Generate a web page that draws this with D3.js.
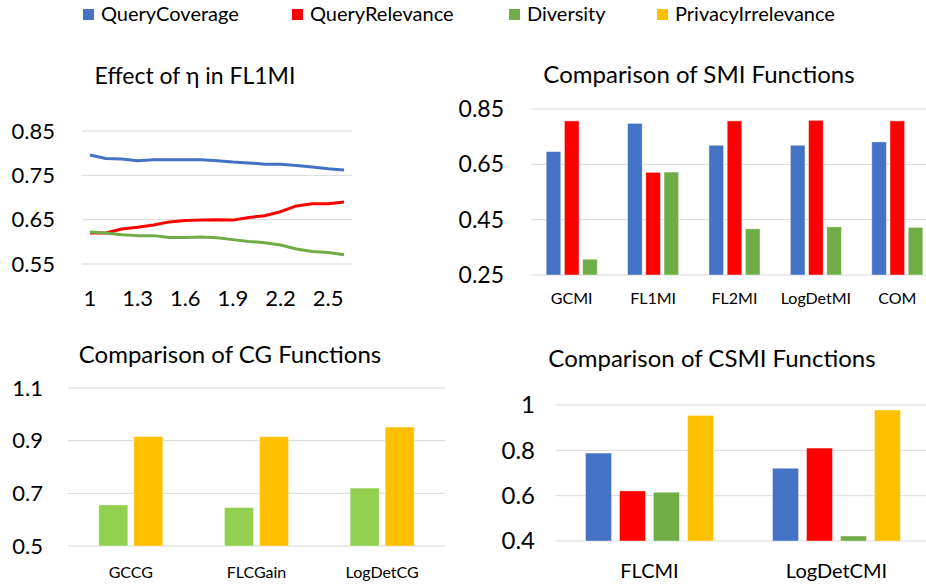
<!DOCTYPE html>
<html>
<head>
<meta charset="utf-8">
<script src="https://cdn.jsdelivr.net/npm/d3@7"></script>
<style>
  body { margin: 0; background: #fff; }
  svg { display: block; font-family: Lato, "Open Sans", sans-serif; }
  .grid line { stroke: #d9d9d9; stroke-width: 1; }
</style>
</head>
<body>
<svg width="926" height="586"></svg>
<script>
// ---- data ----
let seriesNames = ["QueryCoverage", "QueryRelevance", "Diversity", "PrivacyIrrelevance"];
let seriesColors = ["#4472c4", "#ff0000", "#70ad47", "#ffc000"];

// effect of eta in FL1MI
let etas = [1, 1.1, 1.2, 1.3, 1.4, 1.5, 1.6, 1.7, 1.8, 1.9, 2, 2.1, 2.2, 2.3, 2.4, 2.5, 2.6];
let etaTicks = [1, 1.3, 1.6, 1.9, 2.2, 2.5];
let etaCoverage = [0.796, 0.788, 0.787, 0.783, 0.785, 0.785, 0.785, 0.785, 0.783, 0.780, 0.778, 0.775, 0.775, 0.772, 0.769, 0.765, 0.762];
let etaRelevance = [0.620, 0.620, 0.629, 0.633, 0.638, 0.645, 0.648, 0.649, 0.650, 0.649, 0.655, 0.659, 0.668, 0.681, 0.686, 0.686, 0.690];
let etaDiversity = [0.622, 0.620, 0.616, 0.614, 0.614, 0.610, 0.610, 0.611, 0.609, 0.605, 0.601, 0.598, 0.593, 0.584, 0.578, 0.576, 0.571];
let etaYTicks = [0.55, 0.65, 0.75, 0.85];

// SMI functions
let smiNames = ["GCMI", "FL1MI", "FL2MI", "LogDetMI", "COM"];
let smiCoverage = [0.696, 0.798, 0.719, 0.719, 0.731];
let smiRelevance = [0.807, 0.621, 0.807, 0.809, 0.807];
let smiDiversity = [0.307, 0.622, 0.417, 0.424, 0.422];
let smiYTicks = [0.25, 0.45, 0.65, 0.85];

// CG functions
let cgNames = ["GCCG", "FLCGain", "LogDetCG"];
let cgDiversity = [0.656, 0.646, 0.720];
let cgPrivacy = [0.916, 0.915, 0.952];
let cgYTicks = [0.5, 0.7, 0.9, 1.1];

// CSMI functions
let csmiNames = ["FLCMI", "LogDetCMI"];
let csmiCoverage = [0.788, 0.721];
let csmiRelevance = [0.621, 0.810];
let csmiDiversity = [0.615, 0.422];
let csmiPrivacy = [0.954, 0.978];
let csmiYTicks = [0.4, 0.6, 0.8, 1.0];

let svg = d3.select("svg");

// ---- legend ----
let legendX = [83, 292, 509, 657];
let legend = svg.append("g").selectAll("g")
    .data(seriesNames)
    .enter().append("g")
    .attr("transform", function(d, i) { return "translate(" + legendX[i] + ",0)"; });
legend.append("rect")
    .attr("y", 9).attr("width", 11).attr("height", 11)
    .attr("fill", function(d, i) { return seriesColors[i]; });
legend.append("text")
    .attr("x", 18).attr("y", 21)
    .style("font-size", "20px")
    .text(function(d) { return d; });

// ---- helpers ----
function yAxisGrid(g, y, ticks, x0, x1, labelX, fontSize, fmt) {
    g.append("g").attr("class", "grid")
        .selectAll("line").data(ticks).enter().append("line")
        .attr("x1", x0).attr("x2", x1)
        .attr("y1", function(d) { return y(d); })
        .attr("y2", function(d) { return y(d); });
    let ax = g.append("g")
        .attr("transform", "translate(" + labelX + ",0)")
        .call(d3.axisLeft(y).tickValues(ticks).tickSize(0).tickPadding(0).tickFormat(fmt));
    ax.select(".domain").remove();
    ax.selectAll("text")
        .style("font-family", "Lato, sans-serif")
        .style("font-size", fontSize + "px")
        .attr("fill", "#000");
}

function title(g, x, y, txt, size) {
    g.append("text").attr("x", x).attr("y", y)
        .attr("text-anchor", "middle")
        .style("font-size", size + "px")
        .text(txt);
}

function barPanel(opts) {
    let g = svg.append("g");
    let y = d3.scaleLinear().domain(opts.yDomain).range(opts.yRange);
    let x0 = d3.scaleBand().domain(opts.cats).range(opts.xRange)
        .paddingInner(opts.pad).paddingOuter(opts.pad / 2);
    let x1 = d3.scaleBand().domain(d3.range(opts.series.length))
        .range([0, x0.bandwidth()]).paddingInner(opts.innerPad);
    yAxisGrid(g, y, opts.yTicks, opts.xRange[0], Math.min(opts.xRange[1], 926), opts.labelX, opts.yFont, opts.fmt);
    title(g, opts.titleX, opts.titleY, opts.title, 24);

    let groups = g.selectAll(".grp").data(opts.cats).enter().append("g")
        .attr("transform", function(d) { return "translate(" + x0(d) + ",0)"; });
    groups.selectAll("rect")
        .data(function(d, ci) { return opts.series.map(function(s, si) { return {si: si, v: s[ci]}; }); })
        .enter().append("rect")
        .attr("x", function(d) { return x1(d.si); })
        .attr("width", x1.bandwidth())
        .attr("y", function(d) { return y(d.v); })
        .attr("height", function(d) { return y(opts.yDomain[0]) - y(d.v); })
        .attr("fill", function(d) { return opts.colors[d.si]; })
        .attr("stroke", "#fff").attr("stroke-opacity", 0.5).attr("stroke-width", 0.8);

    g.selectAll(".xl").data(opts.cats).enter().append("text")
        .attr("x", function(d) { return x0(d) + x0.bandwidth() / 2; })
        .attr("y", opts.xLabelY)
        .attr("text-anchor", "middle")
        .style("font-size", opts.xFont + "px")
        .text(function(d) { return d; });
}

// ---- panel 1: line chart ----
(function() {
    let g = svg.append("g");
    let x = d3.scaleBand().domain(etas).range([82, 352]);
    let y = d3.scaleLinear().domain([0.55, 0.85]).range([264, 131]);
    yAxisGrid(g, y, etaYTicks, 82, 352, 55, 22, d3.format(".2f"));
    title(g, 195, 84, "Effect of η in FL1MI", 23);

    let line = d3.line()
        .x(function(d, i) { return x(etas[i]) + x.bandwidth() / 2; })
        .y(function(d) { return y(d); });

    let lines = [etaCoverage, etaRelevance, etaDiversity];
    g.selectAll(".line").data(lines).enter().append("path")
        .attr("d", line)
        .attr("fill", "none")
        .attr("stroke-width", 3)
        .attr("stroke-linejoin", "round")
        .attr("stroke", function(d, i) { return seriesColors[i]; });

    g.selectAll(".xl").data(etaTicks).enter().append("text")
        .attr("x", function(d) { return x(d) + x.bandwidth() / 2; })
        .attr("y", 306)
        .attr("text-anchor", "middle")
        .style("font-size", "22px")
        .text(function(d) { return d; });
})();

// ---- panel 2: SMI ----
barPanel({
    cats: smiNames, series: [smiCoverage, smiRelevance, smiDiversity],
    colors: seriesColors.slice(0, 3),
    yDomain: [0.25, 0.85], yRange: [275, 109], yTicks: smiYTicks,
    xRange: [531, 938], pad: 0.373, innerPad: 0.2,
    labelX: 504, yFont: 23, fmt: d3.format(".2f"),
    xLabelY: 304, xFont: 16,
    title: "Comparison of SMI Functions", titleX: 699, titleY: 83
});

// ---- panel 3: CG ----
barPanel({
    cats: cgNames, series: [cgDiversity, cgPrivacy],
    colors: ["#92d050", "#ffc000"],
    yDomain: [0.5, 1.1], yRange: [546, 388], yTicks: cgYTicks,
    xRange: [68, 445], pad: 0.49, innerPad: 0.171,
    labelX: 43, yFont: 22, fmt: d3.format(".1f"),
    xLabelY: 578, xFont: 16,
    title: "Comparison of CG Functions", titleX: 230, titleY: 363
});

// ---- panel 4: CSMI ----
barPanel({
    cats: csmiNames, series: [csmiCoverage, csmiRelevance, csmiDiversity, csmiPrivacy],
    colors: seriesColors,
    yDomain: [0.4, 1.0], yRange: [541, 405], yTicks: csmiYTicks,
    xRange: [556, 930], pad: 0.316, innerPad: 0.235,
    labelX: 535, yFont: 24, fmt: function(d) { return d === 1 ? "1" : d3.format(".1f")(d); },
    xLabelY: 578, xFont: 20,
    title: "Comparison of CSMI Functions", titleX: 712, titleY: 367
});
</script>
</body>
</html>
